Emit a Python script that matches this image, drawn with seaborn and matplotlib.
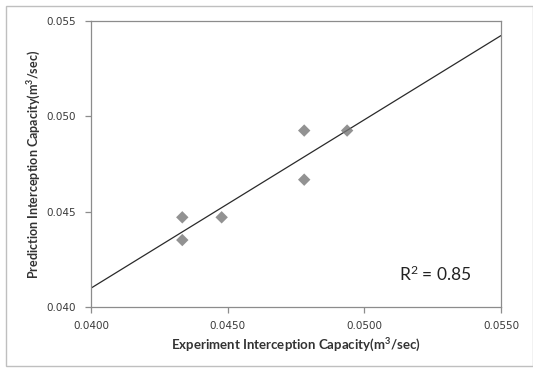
import numpy as np
import pandas as pd
import matplotlib
matplotlib.use("Agg")
import matplotlib.pyplot as plt
import seaborn as sns
from matplotlib.patches import Rectangle

# Data
experiment = [0.04334, 0.04334, 0.04478, 0.04780, 0.04780, 0.04937]
prediction = [0.04471, 0.04352, 0.04471, 0.04925, 0.04668, 0.04925]
x_ticks = [0.0400, 0.0450, 0.0500, 0.0550]
y_ticks = [0.040, 0.045, 0.050, 0.055]
r2_label = r"R$^{\mathregular{2}}$ = 0.85"

df = pd.DataFrame({"Experiment": experiment, "Prediction": prediction})

sns.set_theme(style="white")
plt.rcParams['font.family'] = ['DejaVu Sans']
plt.rcParams['mathtext.fontset'] = 'custom'
plt.rcParams['mathtext.rm'] = 'Lato'
plt.rcParams['mathtext.bf'] = 'Lato:bold'
plt.rcParams['mathtext.default'] = 'regular'

fig = plt.figure(figsize=(5.33, 3.70), dpi=100)
ax = fig.add_axes([91/533, 1-307.3/370, (501-91)/533, (307.3-20.7)/370])
ax.set_xlim(0.0400, 0.0550)
ax.set_ylim(0.040, 0.055)

sns.regplot(data=df, x="Experiment", y="Prediction", ax=ax, ci=None, truncate=False,
            marker="D",
            scatter_kws=dict(s=40, color="#777777", edgecolor="none", zorder=3),
            line_kws=dict(color="#2a2a2a", lw=0.9, zorder=2))

ax.set_xlim(0.0400, 0.0550)
ax.set_ylim(0.040, 0.055)
ax.set_xticks(x_ticks)
ax.set_xticklabels([f"{v:.4f}" for v in x_ticks])
ax.set_yticks(y_ticks)
ax.set_yticklabels([f"{v:.3f}" for v in y_ticks])

for s in ax.spines.values():
    s.set_color("#8c8c8c")
    s.set_linewidth(0.9)
    s.set_visible(True)

ax.tick_params(axis="both", which="major", direction="out", length=4, width=0.9,
               color="#8c8c8c", labelsize=7.5, labelcolor="#3a3a3a",
               bottom=True, left=True)
ax.tick_params(axis="x", pad=6)
ax.tick_params(axis="y", pad=7)

ax.set_xlabel(r"Experiment Interception Capacity(m$\mathbf{^{3}}$/sec)", fontsize=9.5,
              fontweight="bold", color="#333333", labelpad=4, family="Lato")
ax.set_ylabel(r"Prediction Interception Capacity(m$\mathbf{^{3}}$/sec)", fontsize=9.0,
              fontweight="bold", color="#333333", labelpad=2, family="Lato")

ax.text(0.84, 0.115, r2_label, transform=ax.transAxes, ha="center", va="center",
        fontsize=12.5, color="#222222", family="Lato")

# outer frame
fig.patches.append(Rectangle((6/533, 4/370), (533-6)/533, (370-10)/370, transform=fig.transFigure,
                             fill=False, edgecolor="#bfbfbf", lw=1.0))

fig.savefig("out.png", dpi=100)
